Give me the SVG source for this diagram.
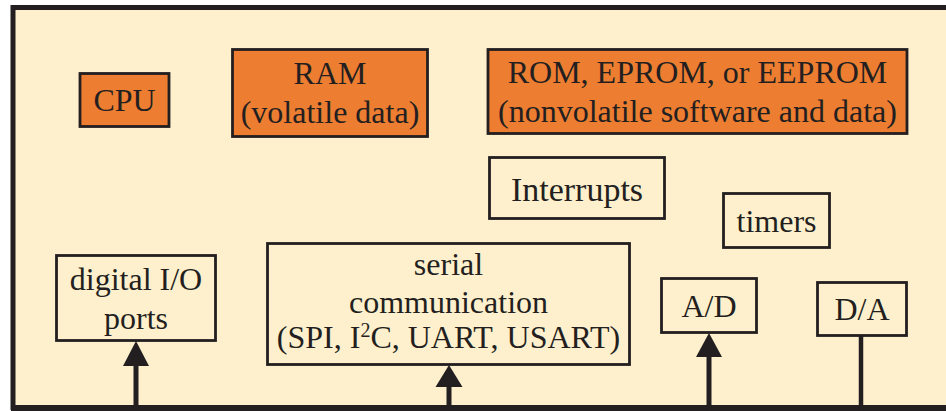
<svg xmlns="http://www.w3.org/2000/svg" width="946" height="411" viewBox="0 0 946 411">
  <style>
    .box { stroke: #231f20; stroke-width: 2.8; }
    .mem { fill: #ec7d31; }
    .per { fill: #fef0cd; }
    text { font-family: "Liberation Serif", "Times New Roman", serif; font-size: 32px; fill: #231f20; text-anchor: middle; }
    .bus { stroke: #231f20; stroke-width: 5; fill: none; }
    .head { fill: #231f20; }
  </style>
  <rect width="946" height="411" fill="#ffffff"/>
  <!-- chip outline -->
  <rect id="chip" x="13" y="7.5" width="960" height="400" fill="#fef0cd" stroke="#231f20" stroke-width="5"/>
  <line x1="11" y1="408" x2="946" y2="408" stroke="#231f20" stroke-width="6"/>

  <g id="cpu">
    <rect class="box mem" x="80" y="73.5" width="89" height="53"/>
    <text x="124.5" y="111">CPU</text>
  </g>
  <g id="ram">
    <rect class="box mem" x="232.5" y="49.5" width="195" height="87"/>
    <text x="330" y="84">RAM</text>
    <text x="330" y="122.5">(volatile data)</text>
  </g>
  <g id="rom">
    <rect class="box mem" x="488" y="49.5" width="419" height="84"/>
    <text x="697.5" y="83">ROM, EPROM, or EEPROM</text>
    <text x="697.5" y="122">(nonvolatile software and data)</text>
  </g>
  <g id="interrupts">
    <rect class="box per" x="489.5" y="157.5" width="175" height="61"/>
    <text x="577" y="201" style="font-size:34px">Interrupts</text>
  </g>
  <g id="timers">
    <rect class="box per" x="723.5" y="193.5" width="106" height="54"/>
    <text x="776.5" y="231.5">timers</text>
  </g>
  <g id="digital-io">
    <rect class="box per" x="56.5" y="255.5" width="159" height="85"/>
    <text x="136" y="290">digital I/O</text>
    <text x="136" y="329">ports</text>
  </g>
  <g id="serial">
    <rect class="box per" x="267.5" y="243.5" width="362" height="121"/>
    <text x="448.5" y="275">serial</text>
    <text x="448.5" y="313">communication</text>
    <text x="448.5" y="348">(SPI, I<tspan style="font-size:20px" dy="-11">2</tspan><tspan dy="11">C, UART, USART)</tspan></text>
  </g>
  <g id="ad">
    <rect class="box per" x="661.5" y="278.5" width="95" height="54"/>
    <text x="709" y="316.5">A/D</text>
  </g>
  <g id="da">
    <rect class="box per" x="817.5" y="282.5" width="89" height="53"/>
    <text x="862" y="320">D/A</text>
  </g>

  <!-- bus taps: inputs carry arrowheads, the D/A output is a plain line -->
  <g id="connectors">
    <line class="bus" x1="136" y1="411" x2="136" y2="366"/>
    <path class="head" d="M123,366 L136,341 L149,366 Z"/>
    <line class="bus" x1="449" y1="411" x2="449" y2="387"/>
    <path class="head" d="M435.5,387 L449,365 L462.5,387 Z"/>
    <line class="bus" x1="709" y1="411" x2="709" y2="357"/>
    <path class="head" d="M696,357 L709,333 L722,357 Z"/>
    <line class="bus" x1="861" y1="411" x2="861" y2="336" style="stroke-width:4.5"/>
  </g>
</svg>
